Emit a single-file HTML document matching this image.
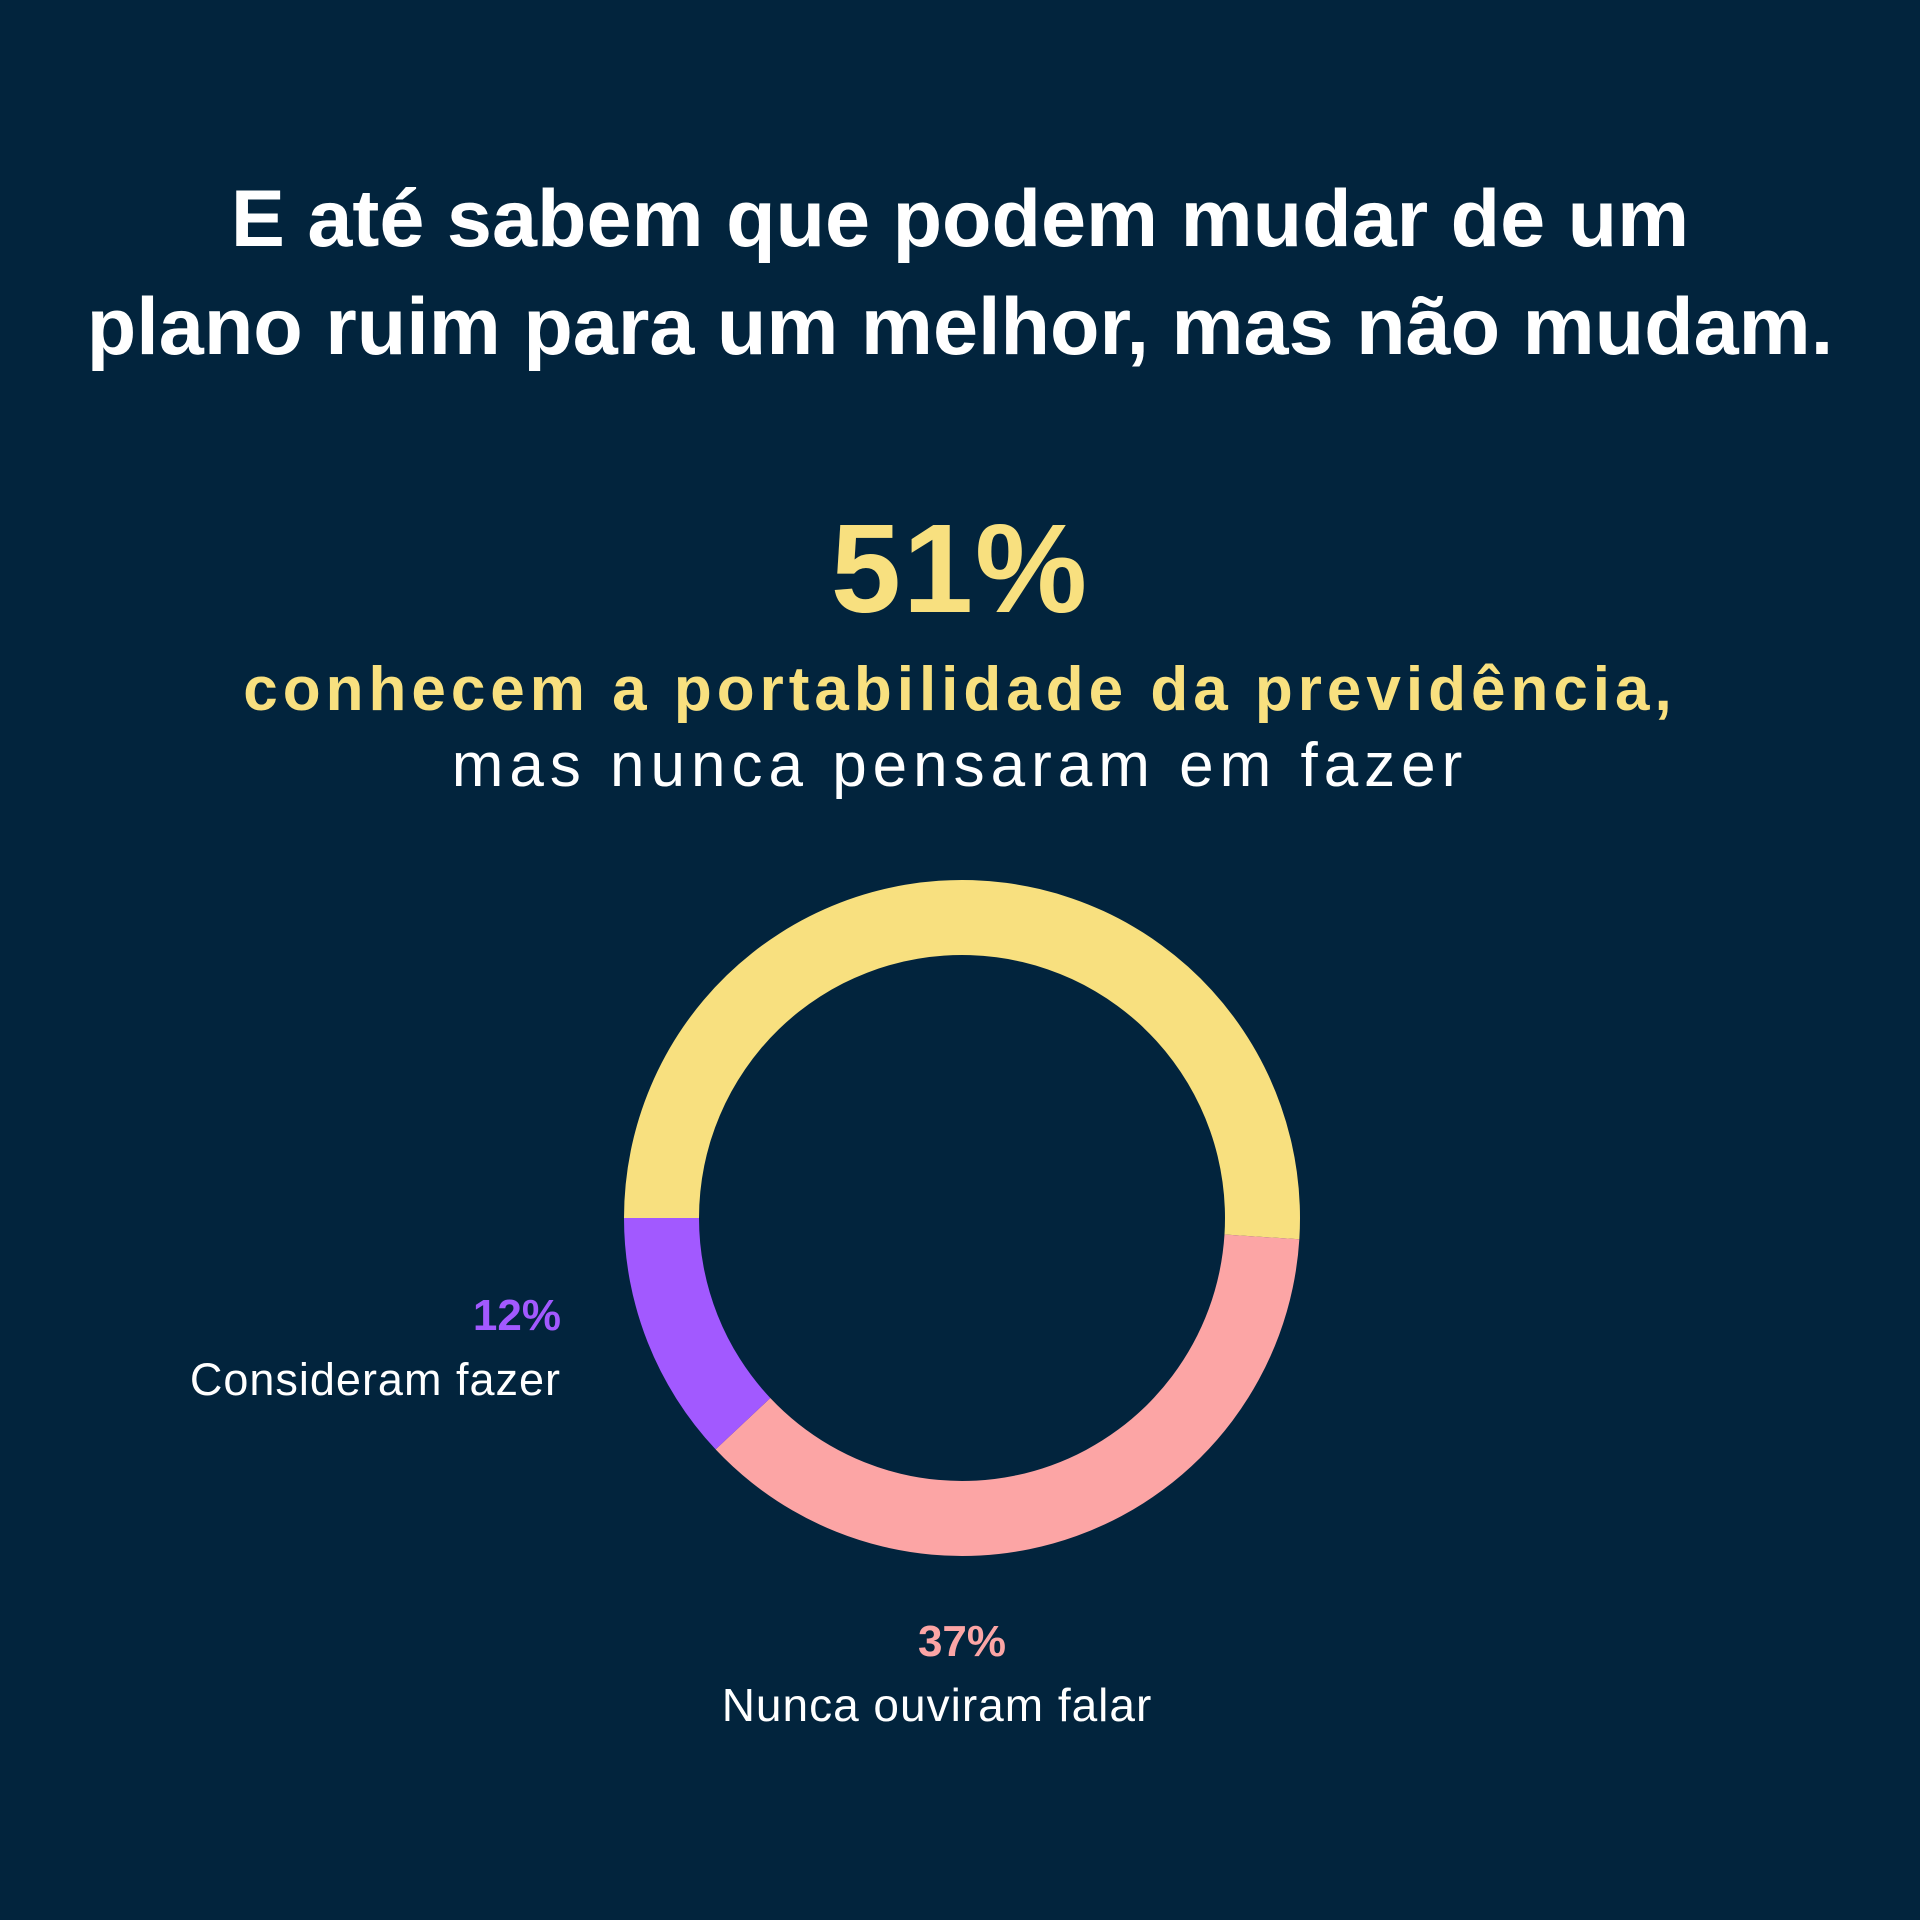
<!DOCTYPE html>
<html><head><meta charset="utf-8"><style>
html,body{margin:0;padding:0;background:#02243d;}
svg{display:block;}
text{font-family:"Liberation Sans",sans-serif;}
</style></head><body>
<svg id="chart" width="1920" height="1920" viewBox="0 0 1920 1920" xmlns="http://www.w3.org/2000/svg">
<rect width="1920" height="1920" fill="#02243d"/>
<text x="960" y="246" text-anchor="middle" font-size="81" font-weight="bold" fill="#ffffff">E até sabem que podem mudar de um</text>
<text x="960" y="354" text-anchor="middle" font-size="81" font-weight="bold" fill="#ffffff">plano ruim para um melhor, mas não mudam.</text>
<text x="960" y="612" text-anchor="middle" font-size="126" font-weight="900" fill="#f8e07f" letter-spacing="2">51%</text>
<text x="960" y="710" text-anchor="middle" font-size="62" font-weight="bold" fill="#f8e07f" letter-spacing="5">conhecem a portabilidade da previdência,</text>
<text x="960" y="786" text-anchor="middle" font-size="62" fill="#ffffff" letter-spacing="6">mas nunca pensaram em fazer</text>
<g id="donut"></g>
<text x="561" y="1330" text-anchor="end" font-size="44" font-weight="bold" fill="#a259ff">12%</text>
<text x="561" y="1395" text-anchor="end" font-size="45" fill="#ffffff" letter-spacing="1">Consideram fazer</text>
<text x="962" y="1656" text-anchor="middle" font-size="44" font-weight="bold" fill="#fca5a5">37%</text>
<text x="937" y="1721" text-anchor="middle" font-size="46" fill="#ffffff" letter-spacing="1">Nunca ouviram falar</text>
</svg>
<script>
const categories = ["Conhecem mas nunca pensaram", "Nunca ouviram falar", "Consideram fazer"];
const values = [51, 37, 12];
const colors = ["#f8e07f", "#fca5a5", "#a259ff"];
const cx = 962, cy = 1218, R = 338, r = 263;
const g = document.getElementById('donut');
const total = values.reduce((a, b) => a + b, 0);
let ang = Math.PI;
function pt(rad, a) { return [cx + rad * Math.cos(a), cy + rad * Math.sin(a)]; }
values.forEach((v, i) => {
  const sweep = v / total * 2 * Math.PI;
  const a0 = ang, a1 = ang + sweep;
  const large = sweep > Math.PI ? 1 : 0;
  const [x0, y0] = pt(R, a0), [x1, y1] = pt(R, a1);
  const [x2, y2] = pt(r, a1), [x3, y3] = pt(r, a0);
  const p = document.createElementNS('http://www.w3.org/2000/svg', 'path');
  p.setAttribute('d', `M${x0},${y0} A${R},${R} 0 ${large} 1 ${x1},${y1} L${x2},${y2} A${r},${r} 0 ${large} 0 ${x3},${y3} Z`);
  p.setAttribute('fill', colors[i]);
  
  
  g.appendChild(p);
  ang = a1;
});
</script>
</body></html>
